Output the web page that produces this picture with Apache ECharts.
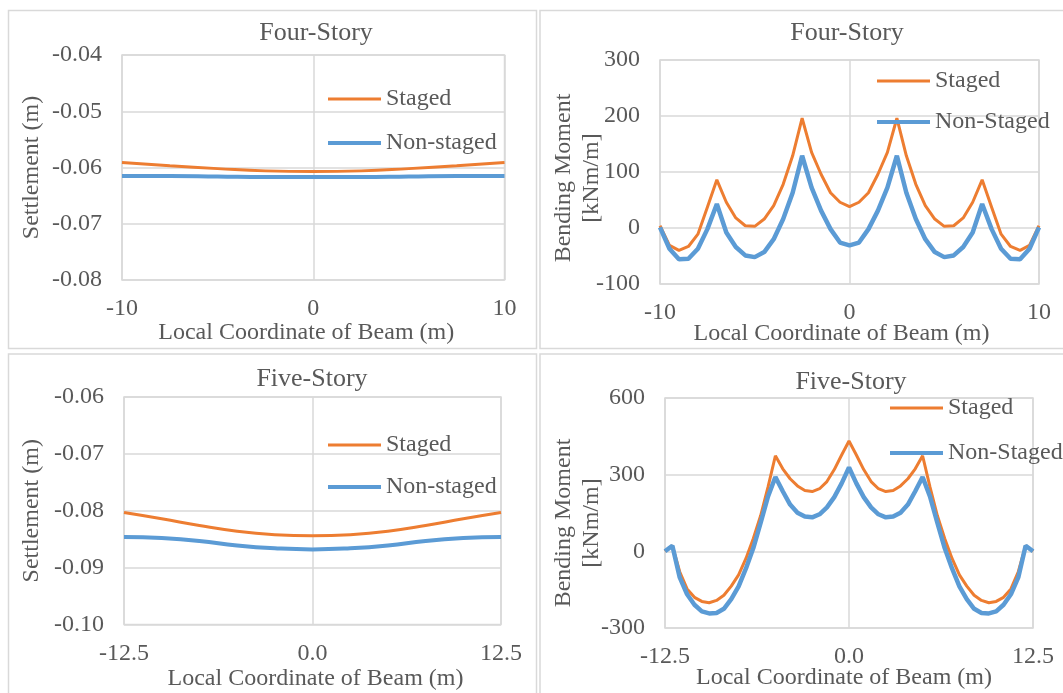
<!DOCTYPE html>
<html>
<head>
<meta charset="utf-8">
<title>Settlement and Bending Moment</title>
<script src="https://cdn.jsdelivr.net/npm/echarts@6.0.0/dist/echarts.min.js"></script>
<style>
    body{margin:0;background:#fff;}
    #chart{width:1063px;height:693px;}
</style>
</head>
<body>
<div id="chart"></div>
<script>
    // --- data ---
    // four-story settlement
    const xFourSettle = [-10, -7.5, -5, -2.5, 0, 2.5, 5, 7.5, 10];
    const fourSettleStaged = [-0.0591, -0.0597, -0.0602, -0.0606, -0.0607, -0.0606, -0.0602, -0.0597, -0.0591];
    const fourSettleNon = [-0.0615, -0.0615, -0.0616, -0.0617, -0.0617, -0.0617, -0.0616, -0.0615, -0.0615];

    // four-story bending moment
    const xFourMoment = [-10, -9.5, -9, -8.5, -8, -7.5, -7, -6.5, -6, -5.5, -5, -4.5, -4, -3.5, -3, -2.5, -2, -1.5, -1, -0.5,
        0, 0.5, 1, 1.5, 2, 2.5, 3, 3.5, 4, 4.5, 5, 5.5, 6, 6.5, 7, 7.5, 8, 8.5, 9, 9.5, 10];
    const fourMomentStaged = [4, -31, -40, -33, -11, 37, 86, 46, 18, 4, 3, 16, 40, 78, 129, 196, 135, 96, 63, 46,
        38, 46, 63, 96, 135, 196, 129, 78, 40, 16, 3, 4, 18, 46, 86, 37, -11, -33, -40, -31, 4];
    const fourMomentNon = [1, -37, -56, -55, -37, -2, 43, -8, -34, -49, -52, -43, -20, 16, 63, 129, 72, 31, -2, -26,
        -31, -26, -2, 31, 72, 129, 63, 16, -20, -43, -52, -49, -34, -8, 43, -2, -37, -55, -56, -37, 1];

    // five-story settlement
    const xFiveSettle = [-12.5, -10, -7.5, -5, -2.5, 0, 2.5, 5, 7.5, 10, 12.5];
    const fiveSettleStaged = [-0.0803, -0.0814, -0.0826, -0.0836, -0.0842, -0.0844, -0.0842, -0.0836, -0.0826, -0.0814, -0.0803];
    const fiveSettleNon = [-0.0846, -0.0848, -0.0853, -0.0861, -0.0866, -0.0868, -0.0866, -0.0861, -0.0853, -0.0848, -0.0846];

    // five-story bending moment
    const xFiveMoment = [-12.5, -12, -11.5, -11, -10.5, -10, -9.5, -9, -8.5, -8, -7.5, -7, -6.5, -6, -5.5, -5, -4.5, -4, -3.5, -3, -2.5, -2, -1.5, -1, -0.5,
        0, 0.5, 1, 1.5, 2, 2.5, 3, 3.5, 4, 4.5, 5, 5.5, 6, 6.5, 7, 7.5, 8, 8.5, 9, 9.5, 10, 10.5, 11, 11.5, 12, 12.5];
    const fiveMomentStaged = [0, 22, -80, -147, -180, -196, -201, -192, -172, -136, -92, -28, 50, 140, 252, 374, 323, 284, 256, 238, 234, 245, 273, 320, 377,
        432, 377, 320, 273, 245, 234, 238, 256, 284, 323, 374, 252, 140, 50, -28, -92, -136, -172, -192, -201, -196, -180, -147, -80, 22, 0];
    const fiveMomentNon = [0, 22, -102, -168, -209, -235, -243, -241, -225, -187, -137, -67, 13, 112, 215, 291, 235, 183, 151, 136, 133, 145, 172, 212, 266,
        328, 266, 212, 172, 145, 133, 136, 151, 183, 235, 291, 215, 112, 13, -67, -137, -187, -225, -241, -243, -235, -209, -168, -102, 22, 0];

    const fontFamily = "'Liberation Serif', 'Times New Roman', serif";
    const textColor = '#595959';
    const gridColor = '#d9d9d9';
    const orange = '#ED7D31';
    const blue = '#5B9BD5';

    function pairs(xs, ys){
        return xs.map((x, i) => [x, ys[i]]);
    }

    function xAxisOf(gridIndex, min, max, interval, decimals, nameGap, namePad){
        return {
            gridIndex: gridIndex,
            type: 'value',
            min: min, max: max, interval: interval,
            name: 'Local Coordinate of Beam (m)',
            nameLocation: 'middle',
            nameGap: nameGap,
            nameMoveOverlap: false,
            nameTextStyle: {fontFamily: fontFamily, fontSize: 24, color: textColor, padding: namePad},
            axisLine: {show: false},
            axisTick: {show: false},
            axisLabel: {
                margin: 17, fontFamily: fontFamily, fontSize: 24, color: textColor,
                formatter: (v) => decimals ? v.toFixed(decimals) : String(v)
            },
            splitLine: {show: true, lineStyle: {color: gridColor, width: 1.5}}
        };
    }

    function yAxisOf(gridIndex, min, max, interval, decimals, name, nameGap, namePad){
        return {
            gridIndex: gridIndex,
            type: 'value',
            min: min, max: max, interval: interval,
            name: name,
            nameLocation: 'middle',
            nameGap: nameGap,
            nameMoveOverlap: false,
            nameTextStyle: {fontFamily: fontFamily, fontSize: 24, color: textColor, lineHeight: 28, padding: namePad},
            axisLine: {show: false},
            axisTick: {show: false},
            axisLabel: {
                margin: 20, fontFamily: fontFamily, fontSize: 24, color: textColor,
                formatter: (v) => decimals ? v.toFixed(decimals) : String(Math.round(v))
            },
            splitLine: {show: true, lineStyle: {color: gridColor, width: 1.5}}
        };
    }

    function lineSeries(name, idx, data, color, width, smooth){
        return {
            name: name,
            type: 'line',
            xAxisIndex: idx,
            yAxisIndex: idx,
            data: data,
            smooth: smooth,
            symbol: 'none',
            itemStyle: {color: color},
            lineStyle: {color: color, width: width},
            emphasis: {disabled: true}
        };
    }

    function legendOf(name, left, centerY, h){
        return {
            data: [name],
            left: left,
            top: centerY - 12,
            padding: 0,
            icon: 'rect',
            itemWidth: 53,
            itemHeight: h,
            itemGap: 0,
            textStyle: {fontFamily: fontFamily, fontSize: 24, color: textColor}
        };
    }

    function titleOf(text, cx, top){
        return {
            text: text,
            left: cx,
            top: top,
            padding: 0,
            textAlign: 'center',
            textStyle: {fontFamily: fontFamily, fontSize: 26, fontWeight: 'normal', color: textColor}
        };
    }

    function panel(x, y, w, h){
        return {
            type: 'rect',
            silent: true,
            shape: {x: x, y: y, width: w, height: h},
            style: {fill: 'none', stroke: gridColor, lineWidth: 1.5}
        };
    }

    const chart = echarts.init(document.getElementById('chart'));

    const option = {
        animation: false,
        backgroundColor: '#ffffff',
        title: [
            titleOf('Four-Story', 316, 20),
            titleOf('Four-Story', 847, 20),
            titleOf('Five-Story', 312, 366),
            titleOf('Five-Story', 851, 369)
        ],
        legend: [
            legendOf('Staged', 328, 99, 3),
            legendOf('Non-staged', 328, 143, 4),
            legendOf('Staged', 877, 81, 3),
            legendOf('Non-Staged', 877, 122, 4),
            legendOf('Staged', 328, 445, 3),
            legendOf('Non-staged', 328, 487, 4),
            legendOf('Staged', 890, 408, 3),
            legendOf('Non-Staged', 890, 453, 4)
        ],
        graphic: [
            panel(8.5, 10.5, 528, 338),
            panel(540, 10.5, 540, 338),
            panel(8.5, 354, 528, 360),
            panel(540, 354, 540, 360)
        ],
        grid: [
            {left: 122, top: 55, width: 382.5, height: 225, show: true, borderColor: gridColor, borderWidth: 1.5, outerBoundsMode: 'none'},
            {left: 660, top: 60, width: 379, height: 224, show: true, borderColor: gridColor, borderWidth: 1.5, outerBoundsMode: 'none'},
            {left: 124, top: 397, width: 377, height: 227.5, show: true, borderColor: gridColor, borderWidth: 1.5, outerBoundsMode: 'none'},
            {left: 665, top: 398, width: 368, height: 230, show: true, borderColor: gridColor, borderWidth: 1.5, outerBoundsMode: 'none'}
        ],
        xAxis: [
            xAxisOf(0, -10, 10, 10, 0, 41, [0, 14, 0, 0]),
            xAxisOf(1, -10, 10, 10, 0, 38, [0, 16, 0, 0]),
            xAxisOf(2, -12.5, 12.5, 12.5, 1, 42, [0, 0, 0, 6]),
            xAxisOf(3, -12.5, 12.5, 12.5, 1, 38, [0, 10, 0, 0])
        ],
        yAxis: [
            yAxisOf(0, -0.08, -0.04, 0.01, 2, 'Settlement (m)', 76, 0),
            yAxisOf(1, -100, 300, 100, 0, 'Bending Moment\n[kNm/m]', 54, [0, 12, 0, 0]),
            yAxisOf(2, -0.10, -0.06, 0.01, 2, 'Settlement (m)', 78, 0),
            yAxisOf(3, -300, 600, 300, 0, 'Bending Moment\n[kNm/m]', 59, [0, 20, 0, 0])
        ],
        series: [
            lineSeries('Staged', 0, pairs(xFourSettle, fourSettleStaged), orange, 3, true),
            lineSeries('Non-staged', 0, pairs(xFourSettle, fourSettleNon), blue, 4, true),
            lineSeries('Staged', 1, pairs(xFourMoment, fourMomentStaged), orange, 3, false),
            lineSeries('Non-Staged', 1, pairs(xFourMoment, fourMomentNon), blue, 4.5, false),
            lineSeries('Staged', 2, pairs(xFiveSettle, fiveSettleStaged), orange, 3, true),
            lineSeries('Non-staged', 2, pairs(xFiveSettle, fiveSettleNon), blue, 4, true),
            lineSeries('Staged', 3, pairs(xFiveMoment, fiveMomentStaged), orange, 3, false),
            lineSeries('Non-Staged', 3, pairs(xFiveMoment, fiveMomentNon), blue, 4.5, false)
        ]
    };

    chart.setOption(option);
</script>
</body>
</html>
